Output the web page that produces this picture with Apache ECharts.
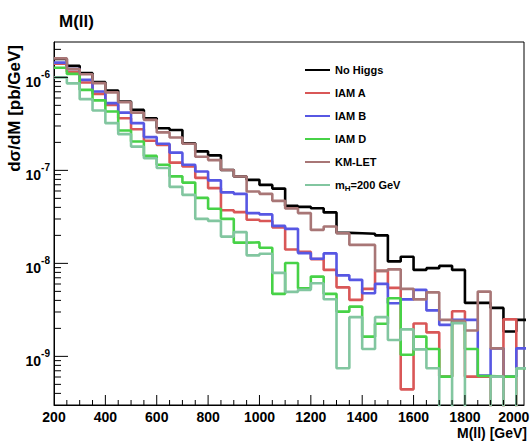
<!DOCTYPE html>
<html><head><meta charset="utf-8">
<script src="https://cdn.jsdelivr.net/npm/echarts@6/dist/echarts.min.js"></script>
<style>html,body{margin:0;padding:0;background:#fff}#c{width:530px;height:443px}</style>
</head><body><div id="c"></div>
<script>
// ---- data (dsigma/dM in pb/GeV, 50 GeV bins, lower bin edges) ----
const binLowEdges = [200,250,300,350,400,450,500,550,600,650,700,750,800,850,900,950,1000,1050,1100,1150,1200,1250,1300,1350,1400,1450,1500,1550,1600,1650,1700,1750,1800,1850,1900,1950,2000];
const binWidth = 50;
const noHiggs = [1.58e-6,1.33e-6,1.11e-6,8.88e-7,7.21e-7,5.49e-7,4.47e-7,3.64e-7,2.84e-7,2.72e-7,1.96e-7,1.60e-7,1.45e-7,1.01e-7,8.58e-8,7.91e-8,6.98e-8,6.37e-8,4.15e-8,4.05e-8,3.92e-8,3.53e-8,2.13e-8,2.11e-8,2.08e-8,2.00e-8,1.05e-8,1.18e-8,8.51e-9,8.88e-9,9.40e-9,8.51e-9,3.76e-9,3.76e-9,3.32e-9,1.85e-9,2.47e-9];
const iamA = [1.40e-6,1.15e-6,8.79e-7,6.65e-7,5.06e-7,3.64e-7,2.77e-7,2.08e-7,1.88e-7,1.21e-7,1.10e-7,8.30e-8,6.44e-8,3.72e-8,3.56e-8,2.94e-8,2.85e-8,2.44e-8,1.41e-8,1.33e-8,1.11e-8,8.51e-9,5.52e-9,4.05e-9,5.32e-9,8.30e-9,5.45e-9,4.42e-10,2.26e-9,1.81e-9,6.06e-10,3.06e-9,6.06e-10,6.06e-10,0,2.50e-9,0];
const iamB = [1.44e-6,1.23e-6,9.40e-7,7.04e-7,5.28e-7,4.18e-7,3.22e-7,2.28e-7,1.93e-7,1.55e-7,1.15e-7,9.71e-8,7.81e-8,5.80e-8,5.59e-8,3.47e-8,3.36e-8,2.53e-8,2.35e-8,1.29e-8,1.12e-8,1.28e-8,7.43e-9,6.65e-9,4.78e-9,6.02e-9,3.73e-9,4.10e-9,5.19e-9,3.12e-9,2.18e-9,2.47e-9,2.47e-9,6.22e-10,1.22e-9,6.06e-10,1.22e-9];
const iamD = [1.27e-6,1.09e-6,7.34e-7,5.66e-7,4.29e-7,2.68e-7,2.04e-7,1.43e-7,1.15e-7,8.62e-8,7.39e-8,5.06e-8,3.86e-8,3.01e-8,1.67e-8,1.68e-8,1.47e-8,4.70e-9,1.01e-8,5.41e-9,7.21e-9,4.70e-9,3.03e-9,3.43e-9,1.63e-9,2.24e-9,4.22e-9,1.04e-9,1.63e-9,1.20e-9,6.06e-10,2.35e-9,1.20e-9,6.15e-10,6.06e-10,6.06e-10,7.46e-10];
const kmLet = [1.60e-6,1.23e-6,1.08e-6,8.66e-7,6.90e-7,5.41e-7,4.18e-7,3.49e-7,2.56e-7,2.26e-7,1.93e-7,1.40e-7,1.29e-7,1.01e-7,8.58e-8,5.92e-8,5.59e-8,4.70e-8,3.90e-8,3.47e-8,2.29e-8,2.49e-8,2.11e-8,1.58e-8,1.58e-8,8.30e-9,8.62e-9,5.32e-9,4.10e-9,4.88e-9,2.47e-9,2.41e-9,1.90e-9,4.97e-9,1.22e-9,0,0];
const mH200 = [1.00e-6,8.62e-7,5.83e-7,4.40e-7,3.22e-7,2.45e-7,1.80e-7,1.35e-7,1.06e-7,6.65e-8,5.45e-8,3.01e-8,2.86e-8,1.94e-8,2.17e-8,1.22e-8,1.27e-8,7.91e-9,4.94e-9,5.19e-9,6.12e-9,4.12e-9,7.46e-10,2.64e-9,1.20e-9,2.64e-9,1.50e-9,1.95e-9,1.19e-9,7.46e-10,0,2.28e-9,0,0,6.06e-10,0,7.46e-10];
const seriesNames = ['No Higgs','IAM A','IAM B','IAM D','KM-LET','m_H=200 GeV'];
const seriesValues = [noHiggs, iamA, iamB, iamD, kmLet, mH200];
const seriesColors = ['#000000','#d95757','#5757e3','#47d247','#a87676','#82c6a0'];
const xTickLabels = [200,400,600,800,1000,1200,1400,1600,1800,2000];
const xMin = 200, xMax = 2030;
const yMin = 3.0e-10, yMax = 2.4e-6;

const FONT = 'Liberation Sans, Arial, Helvetica, sans-serif';
const EMPTY = 1e-14; // empty bins drop below the frame on the log scale

function histData(vals) {
  const d = binLowEdges.map((e, i) => [e, vals[i] > 0 ? vals[i] : EMPTY]);
  const last = vals[vals.length - 1];
  d.push([binLowEdges[binLowEdges.length - 1] + binWidth, last > 0 ? last : EMPTY]);
  return d;
}

// tick marks (ROOT style, inside the frame)
const tickData = [];
for (let e = -10; e <= -5; e++) {
  for (let m = 1; m <= 9; m++) {
    const v = m * Math.pow(10, e);
    if (v > yMin * 1.02 && v < yMax * 0.98) tickData.push([xMin, v, m === 1 ? 0 : 1]);
  }
}
for (let x = xMin + binWidth; x <= 2000; x += binWidth) {
  tickData.push([x, yMin, xTickLabels.indexOf(x) >= 0 ? 2 : 3]);
}

const series = seriesNames.map((n, k) => ({
  name: n, type: 'line', step: 'end', symbol: 'none', showSymbol: false,
  data: histData(seriesValues[k]), clip: true, animation: false,
  lineStyle: { color: seriesColors[k], width: 2.6 }, itemStyle: { color: seriesColors[k] },
  emphasis: { disabled: true }, z: 2 + k
}));
series.push({
  name: 'ticks', type: 'custom', data: tickData, silent: true, animation: false, z: 10,
  renderItem: (params, api) => {
    const kind = api.value(2);
    const p = api.coord([api.value(0), api.value(1)]);
    let x2 = p[0], y2 = p[1];
    if (kind === 0) x2 += 14; else if (kind === 1) x2 += 7; else if (kind === 2) y2 -= 10; else y2 -= 5;
    return { type: 'line', shape: { x1: p[0], y1: p[1], x2: x2, y2: y2 }, style: { stroke: '#000', lineWidth: 1 } };
  }
});

const chart = echarts.init(document.getElementById('c'), null, { renderer: 'svg' });
chart.setOption({
  backgroundColor: '#fff',
  animation: false,
  title: { text: 'M(ll)', left: 54, top: 8, textStyle: { fontFamily: FONT, fontSize: 17, fontWeight: 'bold', color: '#000' } },
  grid: { left: 54, top: 42, right: 6, bottom: 38, containLabel: false, outerBoundsMode: 'none', show: true, borderColor: '#000', borderWidth: 1, backgroundColor: 'transparent' },
  xAxis: {
    type: 'value', min: xMin, max: xMax, interval: 200,
    axisLine: { show: true, lineStyle: { color: '#000', width: 1 } },
    axisTick: { show: false }, splitLine: { show: false },
    axisLabel: { margin: 5, color: '#000', fontFamily: FONT, fontSize: 14, fontWeight: 'bold', showMaxLabel: false,
      formatter: v => { const r = Math.round(v); if (xTickLabels.indexOf(r) < 0) return ''; return r === 2000 ? '{r|' + r + '}' : String(r); },
      rich: { r: { fontFamily: FONT, fontSize: 14, fontWeight: 'bold', color: '#000', padding: [0, 5, 0, 0] } } }
  },
  yAxis: {
    type: 'log', logBase: 10, min: yMin, max: yMax,
    axisLine: { show: true, lineStyle: { color: '#000', width: 1 } },
    axisTick: { show: false }, splitLine: { show: false },
    axisLabel: { margin: 4, color: '#000', padding: [9, 0, 0, 0],
      formatter: v => { const l = Math.log10(v); const e = Math.round(l); return Math.abs(l - e) < 1e-6 ? '{b|10}{s|' + e + '}' : ''; },
      rich: {
        b: { fontFamily: FONT, fontSize: 14, fontWeight: 'bold', color: '#000', lineHeight: 14, verticalAlign: 'bottom' },
        s: { fontFamily: FONT, fontSize: 10, fontWeight: 'bold', color: '#000', lineHeight: 10, padding: [0, 0, 9, 0], verticalAlign: 'bottom' }
      } }
  },
  legend: {
    data: seriesNames, orient: 'vertical', left: 299, top: 58, itemWidth: 25, itemHeight: 14, itemGap: 9,
    selectedMode: false, lineStyle: { width: 2 }, itemStyle: { opacity: 0 },
    formatter: n => n === 'm_H=200 GeV' ? '{a|m}{h|H}{a|=200 GeV}' : n,
    textStyle: { fontFamily: FONT, fontSize: 11, fontWeight: 'bold', color: '#000', lineHeight: 14,
      rich: { a: { fontFamily: FONT, fontSize: 11, fontWeight: 'bold', color: '#000', lineHeight: 14 },
              h: { fontFamily: FONT, fontSize: 8, fontWeight: 'bold', color: '#000', lineHeight: 8, verticalAlign: 'bottom' } } }
  },
  graphic: [
    { type: 'text', x: 14, y: 45, rotation: Math.PI / 2, silent: true,
      style: { text: 'dσ/dM [pb/GeV]', fill: '#000', font: 'bold 17px ' + FONT, textAlign: 'right', textVerticalAlign: 'middle' } },
    { type: 'text', x: 527, y: 433, silent: true,
      style: { text: 'M(ll) [GeV]', fill: '#000', font: 'bold 14px ' + FONT, textAlign: 'right', textVerticalAlign: 'middle' } }
  ],
  series: series
});
</script></body></html>
